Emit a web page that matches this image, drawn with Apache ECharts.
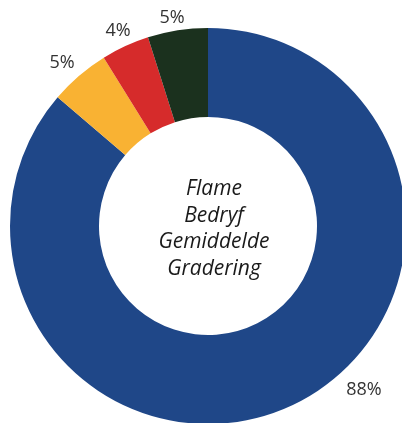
<!DOCTYPE html>
<html>
<head>
<meta charset="utf-8">
<script src="https://cdn.jsdelivr.net/npm/echarts@6/dist/echarts.min.js"></script>
<style>
html,body{margin:0;padding:0;background:#fff;}
#chart{width:402px;height:423px;}
</style>
</head>
<body>
<div id="chart"></div>
<script>
const categories = ['Blue', 'Yellow', 'Red', 'Green'];
const values = [88, 5, 4, 5];
const colors = ['#1F4788', '#F9B233', '#D62B2B', '#1B311E'];
const centerLines = ['Flame', 'Bedryf', 'Gemiddelde', 'Gradering'];

const chart = echarts.init(document.getElementById('chart'), null, {renderer: 'canvas'});
const extraOffset = {0: [66, -31], 1: [-6, 0], 3: [-3, 4]};
chart.setOption({
  animation: false,
  title: {
    text: centerLines.join('\n'),
    left: 209,
    top: 224,
    textAlign: 'center',
    textVerticalAlign: 'middle',
    textStyle: {
      fontFamily: 'Open Sans',
      fontStyle: 'italic',
      fontWeight: 'normal',
      fontSize: 21,
      lineHeight: 26.5,
      color: '#1a1a1a'
    }
  },
  series: [{
    type: 'pie',
    center: [208, 226],
    radius: [109, 198],
    startAngle: 90,
    clockwise: true,
    avoidLabelOverlap: false,
    data: categories.map((c, i) => ({name: c, value: values[i], itemStyle: {color: colors[i]}})),
    label: {
      show: true,
      position: 'outside',
      formatter: p => p.value + '%',
      fontFamily: 'Open Sans',
      fontSize: 18,
      color: '#333',
      distanceToLabelLine: 0
    },
    labelLine: {show: false, length: 17, length2: 0},
    labelLayout: function (p) {
      const w = p.labelRect.width;
      const side = p.align === 'left' ? -1 : 1;
      const ex = extraOffset[p.dataIndex] || [0, 0];
      return {dx: side * w / 2 + ex[0], dy: ex[1]};
    },
    emphasis: {disabled: true}
  }]
});
</script>
</body>
</html>
